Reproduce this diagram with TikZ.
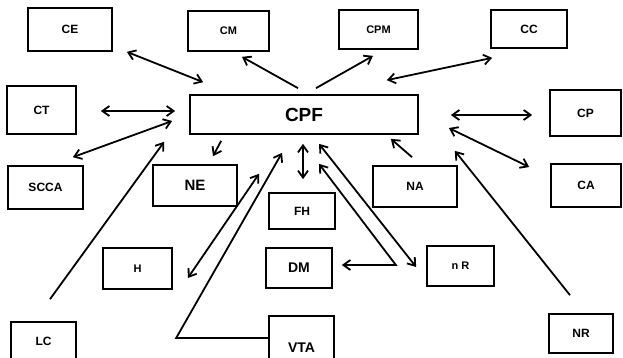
\documentclass[tikz,border=0pt]{standalone}
\usepackage{fontspec}
\setmainfont{Liberation Sans}
\usetikzlibrary{arrows.meta}

\begin{document}
\begin{tikzpicture}[x=1pt, y=-1pt, font=\bfseries\fontsize{12}{14}\selectfont]
    \tikzstyle{box} = [rectangle, draw, line width=1.7pt, inner sep=0pt]
    \tikzstyle{link} = [line width=1.8pt, arrows={-Straight Barb[length=7pt,width=10pt]}]
    \tikzstyle{both} = [line width=1.8pt, arrows={Straight Barb[length=7pt,width=10pt]-Straight Barb[length=7pt,width=10pt]}]

    \useasboundingbox (0,0) rectangle (623,357);

    \node [box, minimum width=84pt, minimum height=43pt] (ce) at (70,29.5) {CE};
    \node [box, minimum width=81pt, minimum height=40pt, font=\bfseries\fontsize{11}{13}\selectfont] (cm) at (228.5,31) {CM};
    \node [box, minimum width=79pt, minimum height=39pt, font=\bfseries\fontsize{11}{13}\selectfont] (cpm) at (378.5,29.5) {CPM};
    \node [box, minimum width=76pt, minimum height=38pt] (cc) at (529,29) {CC};
    \node [box, minimum width=69pt, minimum height=48pt] (ct) at (41.5,110) {CT};
    \node [box, minimum width=228pt, minimum height=39pt, font=\bfseries\fontsize{19}{22}\selectfont] (cpf) at (304,114.5) {CPF};
    \node [box, minimum width=71pt, minimum height=46pt] (cp) at (585.5,113) {CP};
    \node [box, minimum width=75pt, minimum height=43pt] (scca) at (45.5,187.5) {SCCA};
    \node [box, minimum width=84pt, minimum height=41pt, font=\bfseries\fontsize{15}{18}\selectfont] (ne) at (195,185.5) {NE};
    \node [box, minimum width=84pt, minimum height=41pt] (na) at (415,186.5) {NA};
    \node [box, minimum width=70pt, minimum height=43pt] (ca) at (586,185.5) {CA};
    \node [box, minimum width=66pt, minimum height=36pt] (fh) at (302,211) {FH};
    \node [box, minimum width=66pt, minimum height=40pt, font=\bfseries\fontsize{14}{16}\selectfont] (dm) at (299,268) {DM};
    \node [box, minimum width=69pt, minimum height=41pt, font=\bfseries\fontsize{11}{13}\selectfont] (h) at (137.5,268.5) {H};
    \node [box, minimum width=67pt, minimum height=40pt, font=\bfseries\fontsize{11}{13}\selectfont] (nr) at (460.5,266) {n R};
    \node [box, minimum width=64pt, minimum height=39pt] (nrb) at (581,333.5) {NR};
    \node [box, minimum width=65pt, minimum height=64pt, font=\bfseries\fontsize{14}{16}\selectfont] (vta) at (301.5,348) {VTA};
    \node [box, minimum width=65pt, minimum height=38pt] (lc) at (43.5,341) {LC};

    \draw [both] ([xshift=14pt]ce.south east) -- ([xshift=14pt,yshift=12pt]cpf.north west);
    \draw [link] ([xshift=-6pt,yshift=6pt]cpf.north) -- ([xshift=13.5pt,yshift=-5pt]cm.south);
    \draw [link] ([xshift=12pt,yshift=6pt]cpf.north) -- ([xshift=-5.5pt,yshift=-6pt]cpm.south);
    \draw [both] ([xshift=-32pt,yshift=14pt]cpf.north east) -- ([xshift=2pt,yshift=-9pt]cc.south west);
    \draw [both] ([xshift=24pt,yshift=-1pt]ct.east) -- ([xshift=-14pt,yshift=3.5pt]cpf.west);
    \draw [both] ([xshift=-11pt,yshift=8pt]scca.north east) -- ([xshift=-17pt,yshift=-6.5pt]cpf.west);
    \draw [link] ([xshift=6.5pt,yshift=22pt]lc.north) -- ([xshift=-25pt,yshift=-7pt]cpf.south west);
    \draw [link] ([xshift=32pt,yshift=-6pt]cpf.south west) -- ([xshift=18pt,yshift=8pt]ne.north);
    \draw [both] ([xshift=15pt,yshift=-9.5pt]h.east) -- ([xshift=-45pt,yshift=-39pt]cpf.south);
    \draw [link] ([yshift=10pt]vta.west) -- ++(-92,0) -- ([xshift=-22pt,yshift=-18pt]cpf.south);
    \draw [both] ([xshift=-1pt,yshift=-9pt]cpf.south) -- ([xshift=1pt,yshift=13pt]fh.north);
    \draw [both] ([xshift=9pt,yshift=3pt]dm.east) -- ++(54,0) -- ([xshift=15pt,yshift=-29pt]cpf.south);
    \draw [both] ([xshift=15pt,yshift=-9pt]cpf.south) -- ([xshift=-10pt,yshift=-1pt]nr.west);
    \draw [link] ([xshift=-3pt,yshift=8pt]na.north) -- ([xshift=-28pt,yshift=-4pt]cpf.south east);
    \draw [both] ([xshift=32pt,yshift=-0.5pt]cpf.east) -- ([xshift=-17pt,yshift=-2pt]cp.west);
    \draw [both] ([xshift=30pt,yshift=-13.5pt]cpf.east) -- ([xshift=-21pt,yshift=18.5pt]ca.west);
    \draw [link] ([xshift=-11pt,yshift=18pt]nrb.north) -- ([xshift=36pt,yshift=-16pt]cpf.south east);
\end{tikzpicture}
\end{document}
